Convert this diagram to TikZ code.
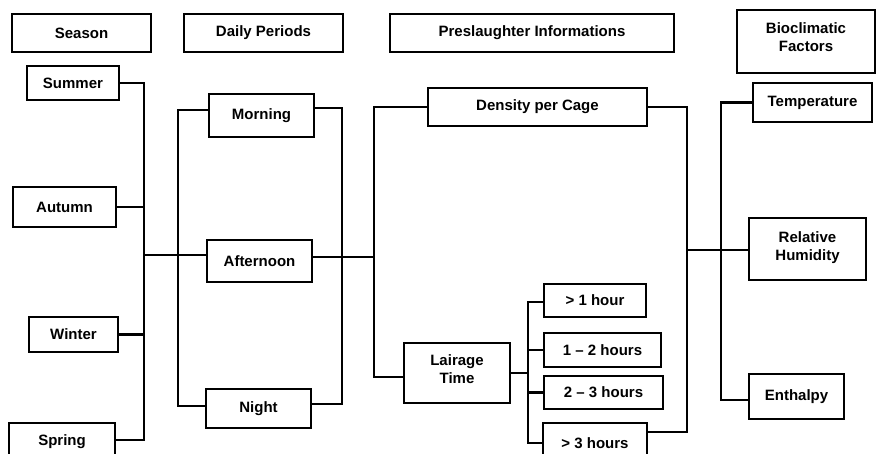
\documentclass[tikz,border=0pt]{standalone}
\usepackage{fontspec}
\setmainfont{Liberation Sans}
\begin{document}
\begin{tikzpicture}[x=1pt,y=-1pt,
  box/.style={draw, line width=1.8pt, inner sep=0pt, align=center,
    font=\bfseries\fontsize{15}{18}\selectfont},
  conn/.style={line width=2.2pt}]
\useasboundingbox (0,0) rectangle (876,453);
\clip (0,0) rectangle (876,453);
% headers
\node[box, minimum width=139pt, minimum height=38pt] (season) at (81.5,33) {Season};
\node[box, minimum width=159pt, minimum height=38pt] (daily) at (263.5,33) {Daily Periods};
\node[box, minimum width=284pt, minimum height=38pt] (presl) at (532,33) {Preslaughter Informations};
\node[box, minimum width=138pt, minimum height=63pt] (bioc) at (806,41.5) {Bioclimatic\\Factors\\[-10pt]};
% seasons
\node[box, minimum width=92pt, minimum height=34pt] (summer) at (73,83) {Summer};
\node[box, minimum width=103pt, minimum height=40pt] (autumn) at (64.5,207) {Autumn};
\node[box, minimum width=89pt, minimum height=35pt] (winter) at (73.5,334.5) {Winter};
\node[box, minimum width=106pt, minimum height=38pt] (spring) at (62,442) {Spring};
% daily periods
\node[box, minimum width=105pt, minimum height=43pt] (morning) at (261.5,115.5) {Morning};
\node[box, minimum width=105pt, minimum height=42pt] (afternoon) at (259.5,261) {Afternoon};
\node[box, minimum width=105pt, minimum height=39pt] (night) at (258.5,408.5) {Night};
% preslaughter
\node[box, minimum width=219pt, minimum height=38pt] (density) at (537.5,107) {Density per Cage};
\node[box, minimum width=106pt, minimum height=60pt] (lairage) at (457,373) {Lairage\\Time\\[-10pt]};
\node[box, minimum width=102pt, minimum height=33pt] (h1) at (595,300.5) {> 1 hour};
\node[box, minimum width=117pt, minimum height=34pt] (h2) at (602.5,350) {1 – 2 hours};
\node[box, minimum width=119pt, minimum height=33pt] (h3) at (603.5,392.5) {2 – 3 hours};
\node[box, minimum width=104pt, minimum height=40pt] (h4) at (595,443) {> 3 hours};
% bioclimatic
\node[box, minimum width=119pt, minimum height=39pt] (temp) at (812.5,102.5) {Temperature};
\node[box, minimum width=117pt, minimum height=62pt] (rh) at (807.5,249) {Relative\\Humidity\\[-12pt]};
\node[box, minimum width=95pt, minimum height=45pt] (enth) at (796.5,396.5) {Enthalpy};
% trunks
\coordinate (sT) at (144,0);
\coordinate (dL) at (178,0);
\coordinate (dR) at (342,0);
\coordinate (pL) at (374,0);
\coordinate (hT) at (528,0);
\coordinate (pR) at (687,0);
\coordinate (bT) at (721,0);
% season connectors
\coordinate (spE) at ([yshift=2pt]spring.east);
\draw[conn] (summer.east) -| (sT |- spE) -- (spE);
\draw[conn] (autumn.east) -- (autumn.east -| sT);
\draw[conn] (winter.east) -- (winter.east -| sT);
\coordinate (afW) at ([yshift=6pt]afternoon.west);
\draw[conn] (sT |- afW) -- (afW);
% daily connectors
\coordinate (moW) at ([yshift=5.5pt]morning.west);
\coordinate (niW) at ([yshift=2.5pt]night.west);
\draw[conn] (moW) -| (dL |- niW) -- (niW);
\coordinate (moE) at ([yshift=7.5pt]morning.east);
\coordinate (niE) at ([yshift=4.5pt]night.east);
\draw[conn] (moE) -| (dR |- niE) -- (niE);
\coordinate (afE) at ([yshift=4pt]afternoon.east);
\draw[conn] (afE) -- (afE -| pL);
% preslaughter connectors
\coordinate (laW) at ([yshift=-4pt]lairage.west);
\draw[conn] (density.west) -| (pL |- laW) -- (laW);
\coordinate (h4E) at ([yshift=11pt]h4.east);
\draw[conn] (density.east) -| (pR |- h4E) -- (h4E);
\coordinate (rhW) at ([yshift=-1pt]rh.west);
\draw[conn] (pR |- rhW) -- (rhW);
% hours
\coordinate (h1W) at ([yshift=-1.5pt]h1.west);
\draw[conn] (lairage.east) -- (lairage.east -| hT);
\draw[conn] (h1W) -| (hT |- h4.west) -- (h4.west);
\draw[conn] (h2.west) -- (h2.west -| hT);
\draw[conn] (h3.west) -- (h3.west -| hT);
% bioclimatic
\coordinate (enW) at ([yshift=-3.5pt]enth.west);
\draw[conn] (temp.west) -| (bT |- enW) -- (enW);
\end{tikzpicture}
\end{document}
